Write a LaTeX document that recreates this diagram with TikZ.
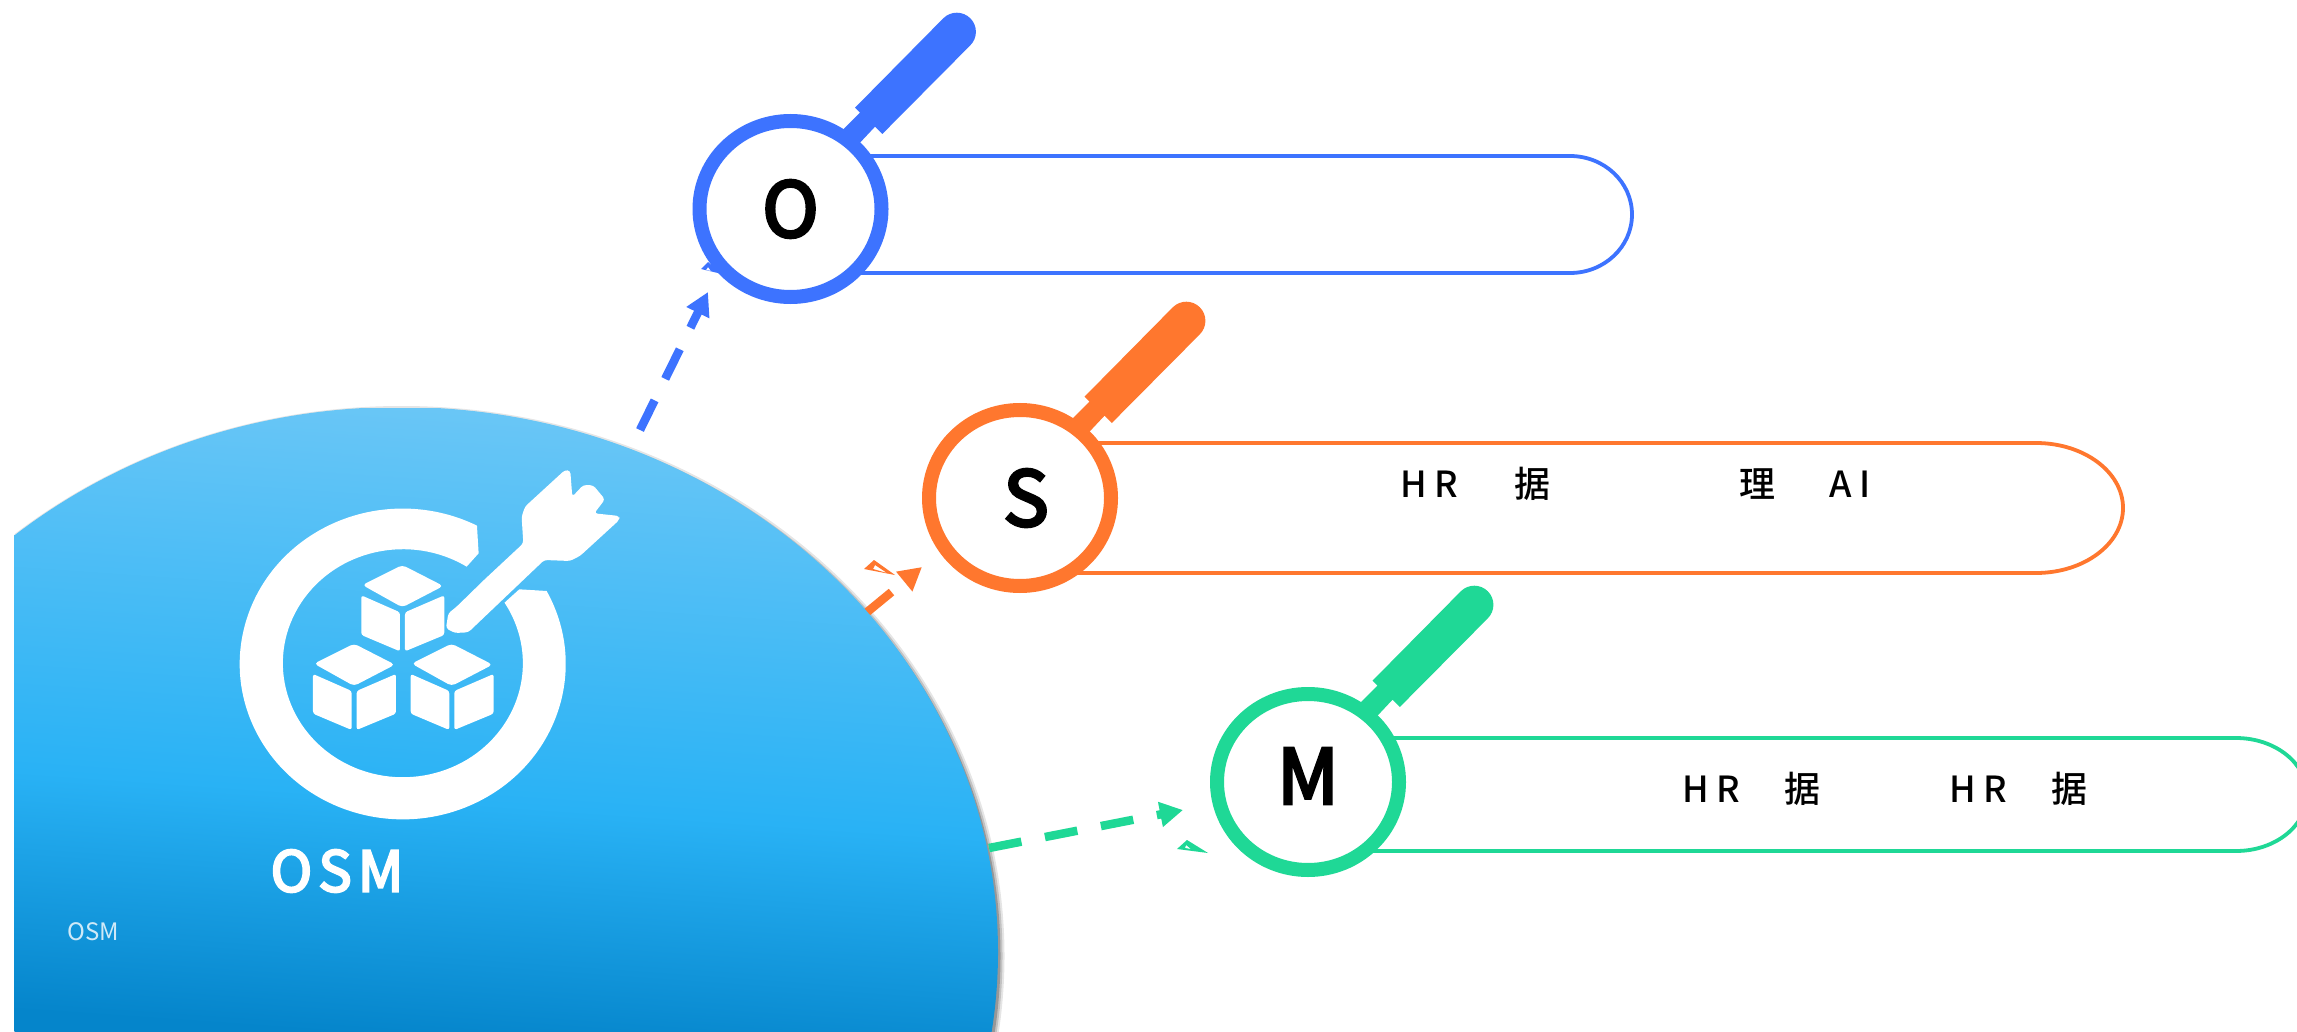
\documentclass[tikz,border=0pt]{standalone}
\usepackage{fontspec}
\usetikzlibrary{arrows.meta,shapes.geometric}
\setmainfont{Noto Sans CJK SC}
\newfontfamily\cjkmed{Noto Sans CJK SC Medium}
\newfontfamily\cjkheavy[FakeBold=4]{Noto Sans CJK SC}
\definecolor{cblue}{HTML}{3D73FF}
\definecolor{corange}{HTML}{FF772E}
\definecolor{cgreen}{HTML}{1FD896}
\definecolor{skya}{HTML}{0585CB}
\definecolor{skyb}{HTML}{29B2F5}
\definecolor{skyc}{HTML}{6CC7F6}
\pgfdeclareverticalshading{skygrad}{100bp}{color(0bp)=(skya); color(25bp)=(skya); color(43.5bp)=(skyb); color(75bp)=(skyc); color(100bp)=(skyc)}
\newcommand{\fs}[1]{\fontsize{#1}{#1}\selectfont}
\tikzset{
  ringnode/.style={ellipse,draw=#1,line width=14pt,fill=white,minimum width=182pt,minimum height=176pt,inner sep=0pt,text=black,font=\cjkheavy\fs{76}},
  pill/.style={draw=#1,line width=3.8pt},
  flow/.style={draw=#1,line width=8.5pt,dash pattern=on 33pt off 24pt,-{Triangle[length=23pt,width=24pt]}},
  label/.style={text=black,font=\cjkmed\fs{36},inner sep=0pt},
  tracked/.style={text=black,font=\cjkmed\fs{36}\addfontfeatures{LetterSpace=22},inner sep=0pt},
  cubeface/.style={fill=white,rounded corners=2.5pt},
  cubetop/.style={fill=white,rounded corners=4pt}
}
\begin{document}
\begin{tikzpicture}[x=1pt,y=-1pt]
\clip (0,0) rectangle (2297,1032);
\fill[white] (0,0) rectangle (2297,1032);

% pills
\draw[pill=cblue] (800,156) -- (1570,156) arc[start angle=90,end angle=-90,x radius=62pt,y radius=58.5pt] -- (800,273);
\draw[pill=corange] (1030,443) -- (2036,443) arc[start angle=90,end angle=-90,x radius=87pt,y radius=65pt] -- (1030,573);
\draw[pill=cgreen] (1320,738) -- (2236,738) arc[start angle=90,end angle=-90,x radius=71pt,y radius=56.5pt] -- (1320,851);

% handles
\foreach \cx/\cy/\col in {790.5/209/cblue,1020/498/corange,1308/782/cgreen}{
  \begin{scope}[shift={(\cx,\cy)}]
    \fill[\col] (30,-50) -- (52.8,-79.7) -- (69.5,-96.3) -- (64.5,-101.3) -- (152.8,-190.7)
      arc[start angle=135,end angle=-45,radius=19.1pt]
      -- (91.8,-75) -- (84.5,-82.3) -- (69.5,-66.3) -- (50,-30) -- cycle;
  \end{scope}
}

% disc shadow
\begin{scope}
  \clip (14.6,0) rectangle (2297,1032);
  \foreach \r/\o in {5/0.10,3/0.15,1/0.22}{
    \fill[black,opacity=\o] (401.5,956) ellipse[x radius=598pt+\r pt,y radius=545pt+\r pt];
  }
\end{scope}

% arrows
\coordinate (oStart) at (640,430);
\coordinate (oTip) at (708,292);
\coordinate (sStart) at (866,613);
\coordinate (sTip) at (922,567);
\coordinate (mStart) at (989,848);
\coordinate (mTip) at (1183,810);
\draw[flow=cblue] (oStart) -- (oTip);
\draw[flow=corange] (sStart) -- (sTip);
\draw[flow=cgreen] (mStart) -- (mTip);

% big disc
\begin{scope}
  \clip (14.6,0) rectangle (2297,1032);
  \clip (400,952) ellipse[x radius=598pt,y radius=545pt];
  \shade[shading=skygrad,shading angle=-4] (0,408) rectangle (1000,1032);
\end{scope}

% icon
\begin{scope}[shift={(200,450)},x=0.3333pt,y=-0.3333pt]
  \fill[white] (1040,423) arc[start angle=28,end angle=-297.1,x radius=163pt,y radius=155.4pt]
     -- (836,310) -- (800,350)
     arc[start angle=57.9,end angle=392.1,x radius=120pt,y radius=114pt]
     -- (958,418) -- cycle;
  \fill[white,rounded corners=3pt] (770,470) -- (852,390) -- (970,280) -- (965,200) -- (975,170) -- (1095,60) -- (1111,62) -- (1117,140) -- (1150,105) -- (1180,106) -- (1215,148) -- (1183,190) -- (1258,198) -- (1258,210) -- (1140,318) -- (1110,333) -- (1033,330) -- (805,547) -- (765,549) -- (738,535) -- (745,490) -- cycle;
  \foreach \dx/\dy in {0/0,-145/236,148/236}{
    \begin{scope}[shift={(\dx,\dy)}]
      \fill[cubetop] (607,345) -- (730,408) -- (607,472) -- (487,405) -- cycle;
      \fill[cubeface] (484,436) -- (600,487) -- (600,604) -- (484,555) -- cycle;
      \fill[cubeface] (615,487) -- (733,436) -- (733,555) -- (615,604) -- cycle;
    \end{scope}
  }
\end{scope}

% labels on disc
\node[text=white,inner sep=0pt,font=\cjkheavy\fs{56}\addfontfeatures{LetterSpace=11}] (osmtitle) at (337,871) {OSM};
\node[text=white,opacity=0.8,inner sep=0pt,font=\fs{24}] (osmsmall) at (93,932) {OSM};

% small remnants
\fill[cblue,even odd rule] (701,269) -- (708,262) -- (722,274) -- cycle (708,267) -- (706,270) -- (711,271) -- cycle;
\fill[corange,even odd rule] (864,569) -- (874,560) -- (895,575) -- cycle (875,565) -- (873,569) -- (887,573) -- cycle;
\fill[cgreen,even odd rule] (1177,849) -- (1187,840) -- (1208,853) -- cycle (1186,845) -- (1185,848) -- (1191,849) -- cycle;

% circles
\node[ringnode=cblue] (O) at (790.5,209) {O};
\node[ringnode=corange] (S) at (1020,498) {\hspace*{12pt}S};
\node[ringnode=cgreen] (M) at (1308,782) {\raisebox{12pt}{M}};

% texts
\node[tracked,anchor=west] (t1) at (1400,484) {HR};
\node[label] (t2) at (1532,484) {据};
\node[label] (t3) at (1757,484) {理};
\node[tracked,anchor=west] (t4) at (1829,484) {AI};
\node[tracked,anchor=west] (t5) at (1682,789) {HR};
\node[label] (t6) at (1802,789) {据};
\node[tracked,anchor=west] (t7) at (1949,789) {HR};
\node[label] (t8) at (2069,789) {据};
\end{tikzpicture}
\end{document}
